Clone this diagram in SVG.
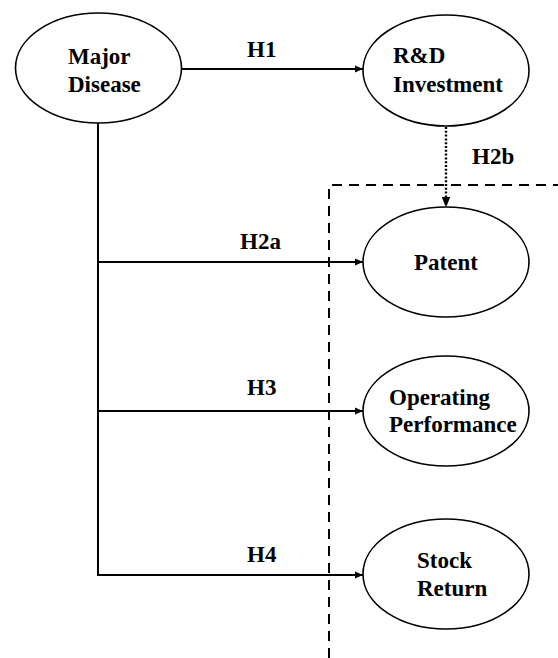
<svg xmlns="http://www.w3.org/2000/svg" width="558" height="658" viewBox="0 0 558 658">
  <defs>
    <marker id="arrow" viewBox="0 0 8 7" refX="8" refY="3.5" markerWidth="4.2" markerHeight="3.7" orient="auto" markerUnits="strokeWidth">
      <path d="M0,0 L8,3.5 L0,7 z" fill="#000"/>
    </marker>
    <style>
      .node ellipse { fill: #fff; stroke: #000; stroke-width: 1.6; }
      .node text, .label { font-family: "Liberation Serif", "Times New Roman", serif; font-weight: bold; font-size: 23px; fill: #000; }
      .edge { fill: none; stroke: #000; stroke-width: 2; }
      .dotted { fill: none; stroke: #000; stroke-width: 2.4; stroke-dasharray: 2 1.8; }
      .boundary { fill: none; stroke: #000; stroke-width: 2; stroke-dasharray: 10 7; }
    </style>
  </defs>
  <rect width="558" height="658" fill="#fff"/>

  <!-- dashed boundary around outcome variables -->
  <path class="boundary" d="M329,658 V185 H558"/>

  <!-- connectors -->
  <g id="connectors">
    <line class="edge" x1="182" y1="69" x2="363" y2="69" marker-end="url(#arrow)"/>
    <line class="dotted" x1="446" y1="127" x2="446" y2="207" marker-end="url(#arrow)"/>
    <path class="edge" d="M98,123 V575"/>
    <line class="edge" x1="97" y1="262" x2="363" y2="262" marker-end="url(#arrow)"/>
    <line class="edge" x1="97" y1="411" x2="363" y2="411" marker-end="url(#arrow)"/>
    <line class="edge" x1="97" y1="575" x2="363" y2="575" marker-end="url(#arrow)"/>
    <text class="label" x="247" y="57">H1</text>
    <text class="label" x="472" y="164">H2b</text>
    <text class="label" x="240" y="249">H2a</text>
    <text class="label" x="247" y="395">H3</text>
    <text class="label" x="247" y="562">H4</text>
  </g>

  <g id="major-disease" class="node">
    <ellipse cx="98.5" cy="68" rx="83" ry="55"/>
    <text x="68" y="64">Major</text>
    <text x="68" y="92">Disease</text>
  </g>

  <g id="rd-investment" class="node">
    <ellipse cx="446" cy="70.5" rx="83" ry="55.5"/>
    <text x="393" y="63">R&amp;D</text>
    <text x="393" y="92">Investment</text>
  </g>

  <g id="patent" class="node">
    <ellipse cx="446" cy="262" rx="83" ry="55"/>
    <text x="446" y="270" text-anchor="middle">Patent</text>
  </g>

  <g id="operating-performance" class="node">
    <ellipse cx="446" cy="411" rx="83" ry="55"/>
    <text x="389" y="405">Operating</text>
    <text x="389" y="432">Performance</text>
  </g>

  <g id="stock-return" class="node">
    <ellipse cx="446" cy="574" rx="83" ry="55"/>
    <text x="417" y="568">Stock</text>
    <text x="417" y="596">Return</text>
  </g>
</svg>
